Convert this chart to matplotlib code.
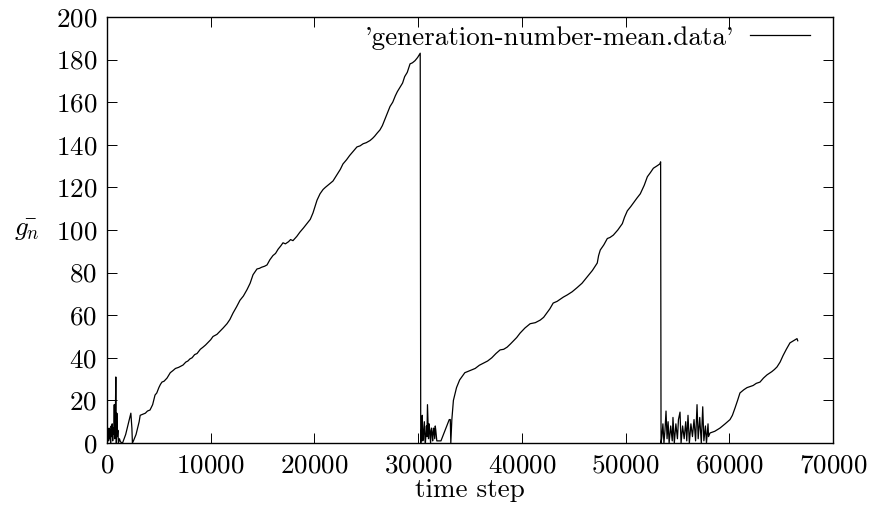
import numpy as np
import matplotlib
matplotlib.use('Agg')
import matplotlib.pyplot as plt

plt.rcParams['font.family'] = ['cmr10', 'DejaVu Serif']
plt.rcParams['mathtext.fontset'] = 'cm'
plt.rcParams['axes.formatter.use_mathtext'] = True

# cycle 1: start-up noise, then climb and drop
t1 = [0, 60, 100, 150, 200, 250, 300, 350, 400, 450, 500, 550, 600, 650, 700,
      750, 800, 850, 900, 950, 1000, 1050, 1100, 1200, 1300, 1500, 1800, 2100,
      2300, 2400, 2450, 2550, 2800, 3100, 3200, 3450, 3700, 3900, 4150, 4400,
      4630, 4800, 5000, 5150, 5300, 5500, 5790, 6100, 6360, 6600, 6900, 7100,
      7330, 7600, 7800, 8000, 8200, 8450, 8680, 9000, 9260, 9500, 9700, 10000,
      10220, 10600, 10900, 11200, 11570, 11850, 12150, 12500, 12820, 13150,
      13500, 13800, 14080, 14460, 14700, 14900, 15200, 15430, 15700, 16000,
      16250, 16500, 16750, 16970, 17200, 17500, 17700, 17930, 18300, 18600,
      18950, 19280, 19600, 19860, 20250, 20540, 20830, 21050, 21300, 21550,
      21790, 22050, 22300, 22500, 22750, 23100, 23400, 23750, 24100, 24400,
      24700, 25000, 25360, 25600, 25800, 26050, 26320, 26550, 26800, 27050,
      27290, 27550, 27800, 28000, 28250, 28500, 28700, 28950, 29220, 29450,
      29700, 29950, 30200, 30250]
g1 = [2, 6, 5, 1, 7, 2, 6, 0, 8, 3, 9, 1, 7, 4, 18,
      2, 10, 31, 0, 14, 3, 6, 0, 2, 0.5, 0, 4, 10,
      14, 7, 0, 1, 4, 10, 13, 13.5, 14, 15, 15.5, 18,
      22.5, 23.5, 26, 27.5, 28.6, 29, 30.5, 33, 34, 35, 35.5, 36,
      36.6, 38, 38.5, 39.5, 40, 41.5, 42, 44, 45, 46, 47, 48.5,
      50, 51, 52.5, 54, 56, 58, 61, 64, 67, 69,
      72, 75, 79, 81.7, 82, 82.5, 83, 83.6, 86, 88,
      89, 91, 92.5, 94, 93.5, 94.5, 95.5, 95, 97, 99,
      101, 103, 105, 108, 114, 117, 119, 120, 121, 122,
      123, 125, 127, 128.5, 131, 133, 135, 137, 139, 139.5,
      140.5, 141, 142, 143, 144, 145.5, 147, 149, 152, 155,
      158, 160, 163, 165, 167, 169, 172, 174, 178, 178.5,
      179.5, 181, 183, 0]

# cycle 2
t2 = [30300, 30350, 30400, 30450, 30500, 30600, 30650, 30700, 30800, 30850,
      30900, 31000, 31050, 31100, 31200, 31250, 31300, 31400, 31450, 31500,
      31600, 31650, 31700, 31800, 32200, 32600, 33000, 33100, 33150, 33250,
      33400, 33700, 34000, 34500, 35000, 35500, 35900, 36300, 36700, 37100,
      37500, 37900, 38250, 38580, 38900, 39200, 39500, 39830, 40300, 40800,
      41300, 41770, 42100, 42400, 42700, 43020, 43400, 43700, 44000, 44370,
      44850, 45340, 45800, 46300, 46800, 47270, 47400, 47560, 47900, 48240,
      48500, 48820, 49250, 49690, 49900, 50170, 50500, 50800, 51100, 51420,
      51800, 52100, 52400, 52680, 53000, 53300, 53380, 53420]
g2 = [2, 9, 13, 1, 3, 10, 2, 0, 8, 3,
      18, 2, 9, 7, 0, 6, 7, 1, 5, 7,
      2, 8, 6, 1, 1, 6, 11, 11, 0, 11,
      20, 26, 29.6, 33, 34, 35, 36.5, 37.5, 38.5, 40,
      42, 43.7, 44, 45, 46.5, 48, 49.5, 51.6, 54, 56,
      56.5, 57.7, 59, 61, 63, 65.7, 66.5, 67.5, 68.5, 69.5,
      71, 73, 75, 78, 81, 84.5, 88, 90.6, 93, 96,
      96.5, 97.6, 100, 103, 106, 109, 111, 113, 115, 117,
      121, 125, 127, 129, 130, 131, 132, 0]

# cycle 3
t3 = [53500, 53600, 53700, 53800, 53900, 54000, 54100, 54200, 54350, 54500,
      54570, 54700, 54850, 55000, 55100, 55250, 55350, 55500, 55650, 55800,
      55900, 56020, 56150, 56300, 56450, 56600, 56750, 56890, 57000, 57150,
      57300, 57440, 57550, 57700, 57800, 57950, 58000, 58140, 58600, 59100,
      59600, 60070, 60300, 60550, 60800, 61030, 61400, 61710, 62000, 62300,
      62600, 62960, 63300, 63640, 64100, 64350, 64600, 64900, 65180, 65500,
      65850, 66200, 66530, 66600]
g3 = [3, 9, 0, 6, 15, 2, 10, 0, 8, 1,
      12, 0, 9, 2, 11, 14.5, 0, 8, 2, 10,
      1, 13, 0, 9, 3, 11, 1, 18, 2, 12,
      0, 17, 1, 8, 0, 9, 3, 4.7, 5.5, 7,
      9, 11, 13, 16.4, 20, 23.5, 25, 26, 26.5, 27,
      28, 28.6, 30.5, 32, 33.5, 34.5, 35.7, 38, 41, 44,
      47, 48, 49, 48]

steps = np.array(t1 + t2 + t3)
gbar = np.array(g1 + g2 + g3)

fig = plt.figure(figsize=(8.73, 5.12), dpi=100)
ax = fig.add_axes([107/873, 1 - 443/512, 726/873, 426/512])
ax.plot(steps, gbar, color='black', lw=0.9,
        label="'generation-number-mean.data'")

ax.set_xlim(0, 70000)
ax.set_ylim(0, 200)
ax.set_xticks(np.arange(0, 70001, 10000))
ax.set_yticks(np.arange(0, 201, 20))
ax.tick_params(direction='in', length=7, width=0.7, top=True, right=True,
               labelsize=19.5)
ax.tick_params(axis='x', pad=8)
ax.tick_params(axis='y', pad=7)
for s in ax.spines.values():
    s.set_linewidth(1.0)

ax.set_xlabel('time step', fontsize=19.5, labelpad=0)
ax.set_ylabel(r'$\bar{g_n}$', fontsize=19.5, rotation=0, va='center')
ax.yaxis.set_label_coords(-0.11, 0.5)

ax.legend(loc='upper right', frameon=False, markerfirst=False, fontsize=19.5,
          handlelength=2.2, handletextpad=0.6, borderaxespad=0.0,
          bbox_to_anchor=(0.983, 1.005))

fig.savefig('out.png', dpi=100)
